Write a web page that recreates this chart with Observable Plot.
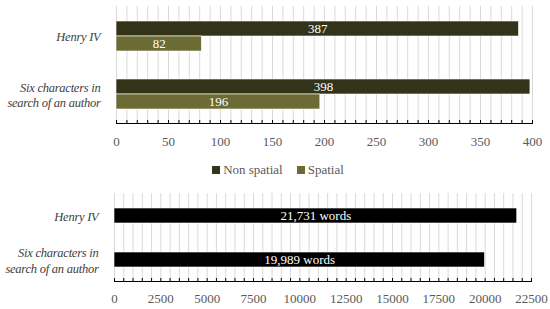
<!DOCTYPE html>
<html>
<head>
<meta charset="utf-8">
<script src="https://cdn.jsdelivr.net/npm/d3@7"></script>
<script src="https://cdn.jsdelivr.net/npm/@observablehq/plot@0.6"></script>
<style>
  body { margin: 0; background: #fff; width: 550px; height: 309px; overflow: hidden; }
  #legend { height: 25px; box-sizing: border-box; padding-top: 5px; display: flex; justify-content: center; align-items: center; font-size: 13px; color: #595959; padding-left: 6px; }
  .item { display: flex; align-items: center; margin: 0 7px; }
  .sw { width: 8px; height: 8px; margin-right: 3px; }
  .catlab text { letter-spacing: -0.25px; }
</style>
</head>
<body>
<div id="chart" style="font-family:'Liberation Serif'"></div>
<script>
const categories = ["Henry IV", "Six characters in\nsearch of an author"];
const nonSpatial = [387, 398];
const spatial = [82, 196];
const words = [21731, 19989];
const seriesNames = ["Non spatial", "Spatial"];
const seriesColors = ["#333319", "#6b6b33"];
const topTicks = d3.range(0, 401, 50);
const bottomTicks = d3.range(0, 22501, 2500);

const topData = categories.map((c, i) => ({cat: c, ns: nonSpatial[i], sp: spatial[i]}));
const wordData = categories.map((c, i) => ({cat: c, w: words[i], label: d3.format(",")(words[i]) + " words"}));

const FF = "Liberation Serif";
const styleStr = "font-family: 'Liberation Serif'; font-size: 13px; color: #595959; background: #fff; display: block;";

const H1 = 155, mt1 = 6, mb1 = 32;
const topPlot = Plot.plot({
  width: 550, height: H1,
  marginTop: mt1, marginBottom: mb1, marginLeft: 116, marginRight: 18,
  style: styleStr,
  x: {domain: [0, 400], axis: null, label: null},
  y: {domain: categories, paddingInner: 0.485, paddingOuter: 0.25, axis: null, label: null},
  marks: [
    Plot.ruleX(d3.range(0, 401, 10), {x: d => d, stroke: "#d9d9d9", strokeWidth: 1}),
    Plot.barX(topData, {x: "ns", y: "cat", fill: seriesColors[0], insetBottom: 15, stroke: "#fff", strokeWidth: 0.6}),
    Plot.barX(topData, {x: "sp", y: "cat", fill: seriesColors[1], insetTop: 15, stroke: "#fff", strokeWidth: 0.6}),
    Plot.text(topData, {x: d => d.ns / 2, y: "cat", dy: -7.5, text: d => String(d.ns), fill: "#fff", fontSize: 13, fontFamily: FF}),
    Plot.text(topData, {x: d => d.sp / 2, y: "cat", dy: 7.5, text: d => String(d.sp), fill: "#fff", fontSize: 13, fontFamily: FF}),
    Plot.ruleX(d3.range(0, 401, 10), {x: d => d, insetTop: H1 - mt1 - mb1 - 3, stroke: "#000"}),
    Plot.frame({anchor: "bottom", stroke: "#000"}),
    Plot.axisX({ticks: topTicks, tickSize: 0, tickPadding: 13, tickFormat: d => String(d), label: null, fill: "#595959", fontFamily: FF, fontSize: 13}),
    Plot.text(categories, {y: d => d, frameAnchor: "left", textAnchor: "end", dx: -16, fontStyle: "italic", lineHeight: 1.22, fill: "#404040", fontSize: 12.5, fontFamily: FF, className: "catlab"})
  ]
});

const legend = document.createElement("div");
legend.id = "legend";
legend.style.fontFamily = "'Liberation Serif'";
seriesNames.forEach((n, i) => {
  const it = document.createElement("div");
  it.className = "item";
  const sw = document.createElement("div");
  sw.className = "sw";
  sw.style.background = seriesColors[i];
  it.appendChild(sw);
  it.appendChild(document.createTextNode(n));
  legend.appendChild(it);
});

const H2 = 129, mt2 = 13, mb2 = 28;
const bottomPlot = Plot.plot({
  width: 550, height: H2,
  marginTop: mt2, marginBottom: mb2, marginLeft: 114, marginRight: 19,
  style: styleStr,
  x: {domain: [0, 22500], axis: null, label: null},
  y: {domain: categories, paddingInner: 0.66, paddingOuter: 0.32, axis: null, label: null},
  marks: [
    Plot.ruleX(d3.range(0, 22501, 500), {x: d => d, stroke: "#d9d9d9", strokeWidth: 1}),
    Plot.barX(wordData, {x: "w", y: "cat", fill: "#000", stroke: "#fff", strokeWidth: 0.6}),
    Plot.text(wordData, {x: d => d.w / 2, y: "cat", text: "label", fill: "#fff", fontSize: 13, fontFamily: FF}),
    Plot.ruleX(d3.range(0, 22501, 500), {x: d => d, insetTop: H2 - mt2 - mb2 - 3, stroke: "#000"}),
    Plot.frame({anchor: "bottom", stroke: "#000"}),
    Plot.axisX({ticks: bottomTicks, tickSize: 0, tickPadding: 12, tickFormat: d => String(d), label: null, fill: "#595959", fontFamily: FF, fontSize: 13}),
    Plot.text(categories, {y: d => d, frameAnchor: "left", textAnchor: "end", dx: -16, fontStyle: "italic", lineHeight: 1.22, fill: "#404040", fontSize: 12.5, fontFamily: FF, className: "catlab"})
  ]
});

const chart = document.getElementById("chart");
chart.appendChild(topPlot);
chart.appendChild(legend);
chart.appendChild(bottomPlot);
</script>
</body>
</html>
